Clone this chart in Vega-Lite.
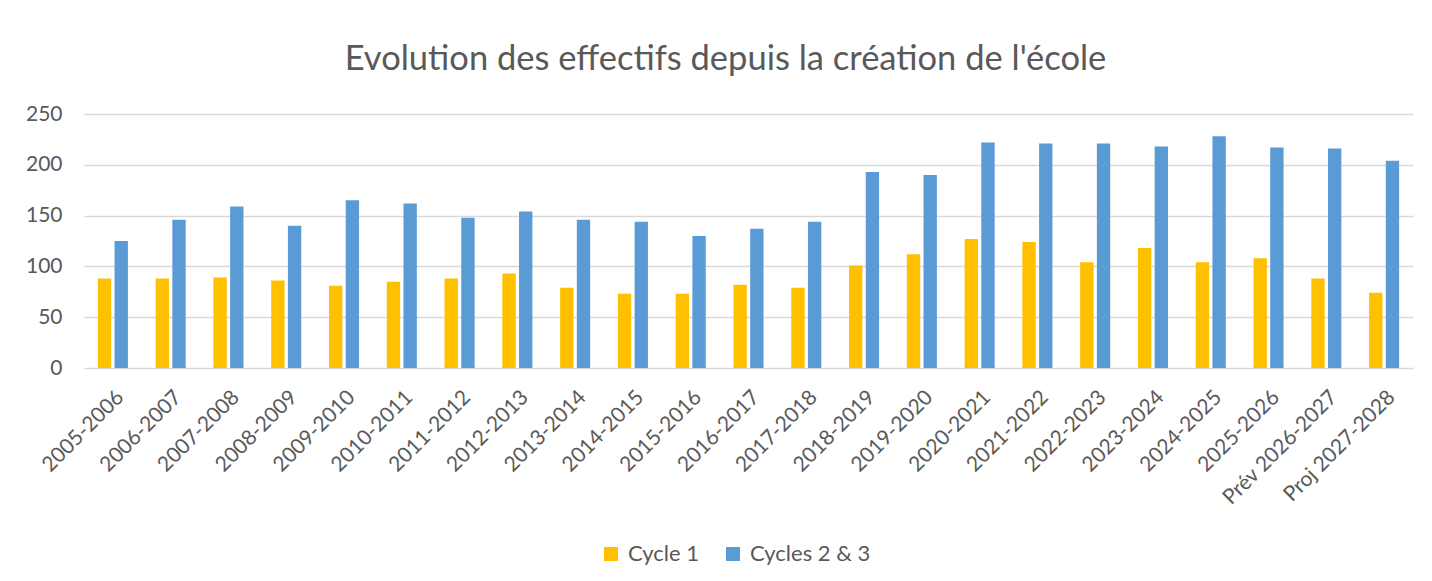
{
  "$schema": "https://vega.github.io/schema/vega-lite/v6.json",
  "width": 1329,
  "height": 254,
  "autosize": {"type": "none"},
  "padding": {"left": 84, "top": 114, "right": 19, "bottom": 213},
  "background": "white",
  "title": {
    "text": "Evolution des effectifs depuis la création de l'école",
    "frame": "group",
    "anchor": "middle",
    "offset": 26,
    "dx": -23,
    "font": "Lato",
    "fontSize": 34.5,
    "fontWeight": "normal",
    "color": "#595959"
  },
  "config": {
    "view": {"stroke": null},
    "font": "Lato"
  },
  "data": {
    "values": [
      {"annee": "2005-2006", "cycle": "Cycle 1", "effectif": 88},
      {"annee": "2005-2006", "cycle": "Cycles 2 & 3", "effectif": 125},
      {"annee": "2006-2007", "cycle": "Cycle 1", "effectif": 88},
      {"annee": "2006-2007", "cycle": "Cycles 2 & 3", "effectif": 146},
      {"annee": "2007-2008", "cycle": "Cycle 1", "effectif": 89},
      {"annee": "2007-2008", "cycle": "Cycles 2 & 3", "effectif": 159},
      {"annee": "2008-2009", "cycle": "Cycle 1", "effectif": 86},
      {"annee": "2008-2009", "cycle": "Cycles 2 & 3", "effectif": 140},
      {"annee": "2009-2010", "cycle": "Cycle 1", "effectif": 81},
      {"annee": "2009-2010", "cycle": "Cycles 2 & 3", "effectif": 165},
      {"annee": "2010-2011", "cycle": "Cycle 1", "effectif": 85},
      {"annee": "2010-2011", "cycle": "Cycles 2 & 3", "effectif": 162},
      {"annee": "2011-2012", "cycle": "Cycle 1", "effectif": 88},
      {"annee": "2011-2012", "cycle": "Cycles 2 & 3", "effectif": 148},
      {"annee": "2012-2013", "cycle": "Cycle 1", "effectif": 93},
      {"annee": "2012-2013", "cycle": "Cycles 2 & 3", "effectif": 154},
      {"annee": "2013-2014", "cycle": "Cycle 1", "effectif": 79},
      {"annee": "2013-2014", "cycle": "Cycles 2 & 3", "effectif": 146},
      {"annee": "2014-2015", "cycle": "Cycle 1", "effectif": 73},
      {"annee": "2014-2015", "cycle": "Cycles 2 & 3", "effectif": 144},
      {"annee": "2015-2016", "cycle": "Cycle 1", "effectif": 73},
      {"annee": "2015-2016", "cycle": "Cycles 2 & 3", "effectif": 130},
      {"annee": "2016-2017", "cycle": "Cycle 1", "effectif": 82},
      {"annee": "2016-2017", "cycle": "Cycles 2 & 3", "effectif": 137},
      {"annee": "2017-2018", "cycle": "Cycle 1", "effectif": 79},
      {"annee": "2017-2018", "cycle": "Cycles 2 & 3", "effectif": 144},
      {"annee": "2018-2019", "cycle": "Cycle 1", "effectif": 101},
      {"annee": "2018-2019", "cycle": "Cycles 2 & 3", "effectif": 193},
      {"annee": "2019-2020", "cycle": "Cycle 1", "effectif": 112},
      {"annee": "2019-2020", "cycle": "Cycles 2 & 3", "effectif": 190},
      {"annee": "2020-2021", "cycle": "Cycle 1", "effectif": 127},
      {"annee": "2020-2021", "cycle": "Cycles 2 & 3", "effectif": 222},
      {"annee": "2021-2022", "cycle": "Cycle 1", "effectif": 124},
      {"annee": "2021-2022", "cycle": "Cycles 2 & 3", "effectif": 221},
      {"annee": "2022-2023", "cycle": "Cycle 1", "effectif": 104},
      {"annee": "2022-2023", "cycle": "Cycles 2 & 3", "effectif": 221},
      {"annee": "2023-2024", "cycle": "Cycle 1", "effectif": 118},
      {"annee": "2023-2024", "cycle": "Cycles 2 & 3", "effectif": 218},
      {"annee": "2024-2025", "cycle": "Cycle 1", "effectif": 104},
      {"annee": "2024-2025", "cycle": "Cycles 2 & 3", "effectif": 228},
      {"annee": "2025-2026", "cycle": "Cycle 1", "effectif": 108},
      {"annee": "2025-2026", "cycle": "Cycles 2 & 3", "effectif": 217},
      {"annee": "Prév 2026-2027", "cycle": "Cycle 1", "effectif": 88},
      {"annee": "Prév 2026-2027", "cycle": "Cycles 2 & 3", "effectif": 216},
      {"annee": "Proj 2027-2028", "cycle": "Cycle 1", "effectif": 74},
      {"annee": "Proj 2027-2028", "cycle": "Cycles 2 & 3", "effectif": 204}
    ]
  },
  "mark": {"type": "bar"},
  "encoding": {
    "x": {
      "field": "annee",
      "type": "nominal",
      "sort": null,
      "scale": {"paddingInner": 0.48, "paddingOuter": 0.24},
      "axis": {
        "title": null,
        "domain": false,
        "ticks": false,
        "labelAngle": -45,
        "labelPadding": 18,
        "labelFontSize": 21,
        "labelColor": "#595959",
        "labelFont": "Lato"
      }
    },
    "xOffset": {
      "field": "cycle",
      "type": "nominal",
      "scale": {"paddingInner": 0.2, "paddingOuter": 0}
    },
    "y": {
      "field": "effectif",
      "type": "quantitative",
      "scale": {"domain": [0, 250], "nice": false},
      "axis": {
        "title": null,
        "values": [0, 50, 100, 150, 200, 250],
        "domain": false,
        "ticks": false,
        "gridColor": "#D9D9D9",
        "gridWidth": 1.5,
        "labelPadding": 22,
        "labelFontSize": 21,
        "labelColor": "#595959",
        "labelFont": "Lato"
      }
    },
    "color": {
      "field": "cycle",
      "type": "nominal",
      "scale": {"domain": ["Cycle 1", "Cycles 2 & 3"], "range": ["#FFC000", "#5B9BD5"]},
      "legend": {
        "title": null,
        "orient": "none",
        "legendX": 516,
        "legendY": 429,
        "direction": "horizontal",
        "symbolType": "square",
        "symbolSize": 196,
        "symbolStrokeWidth": 0,
        "labelFontSize": 22,
        "labelColor": "#595959",
        "labelFont": "Lato",
        "labelOffset": 6,
        "columnPadding": 22
      }
    }
  }
}
